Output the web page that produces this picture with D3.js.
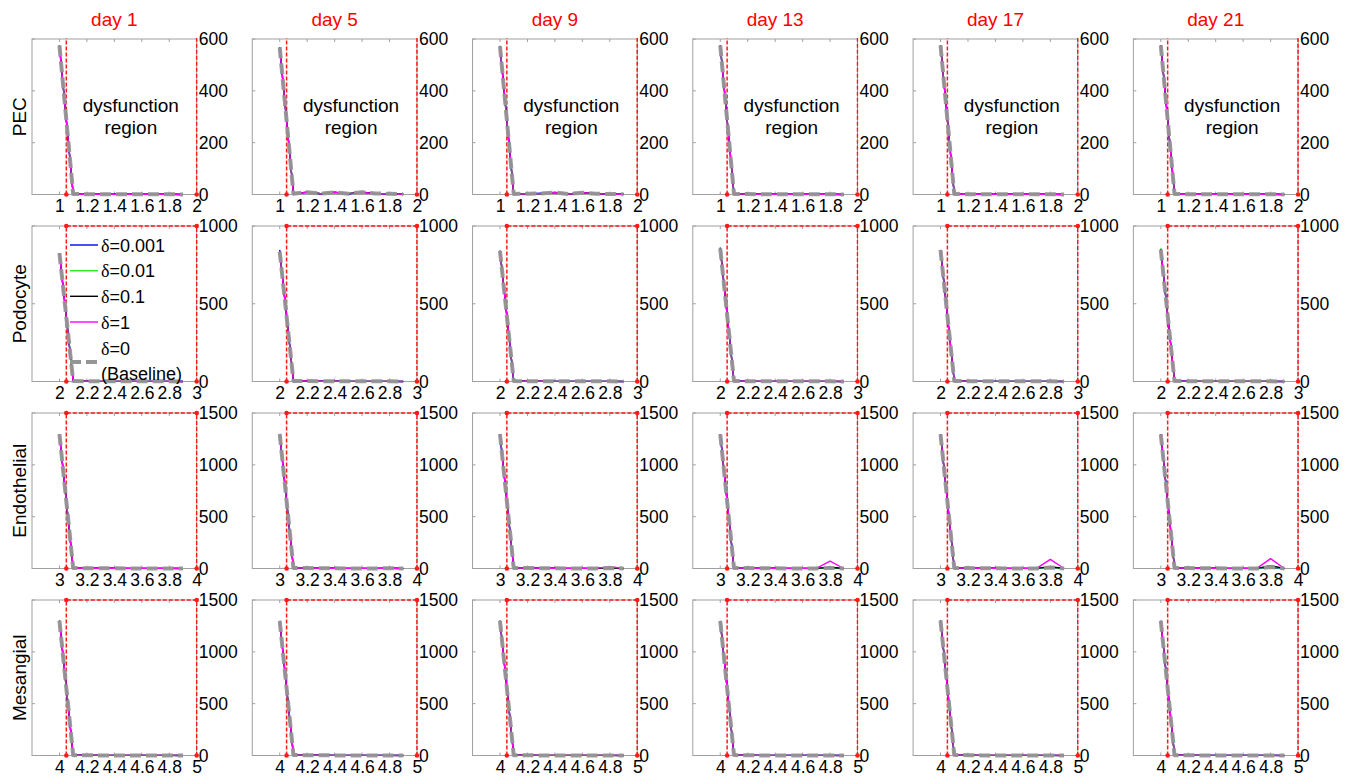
<!DOCTYPE html>
<html>
<head>
<meta charset="utf-8">
<script src="https://cdn.jsdelivr.net/npm/d3@7/dist/d3.min.js"></script>
<style>
  html, body { margin: 0; padding: 0; background: #fff; }
  svg { display: block; font-family: "Liberation Sans", Arial, sans-serif; }
</style>
</head>
<body>
<svg id="chart" width="1351" height="779"></svg>
<script>
// ---- chart data ---------------------------------------------------------
const days = ["day 1", "day 5", "day 9", "day 13", "day 17", "day 21"];
const cellTypes = ["PEC", "Podocyte", "Endothelial", "Mesangial"];

// bin positions relative to each cell type's start value (1, 2, 3, 4)
const binOffsets = [0, 0.1, 0.2, 0.3, 0.4, 0.5, 0.6, 0.7, 0.8, 0.9];
const xStart = [1, 2, 3, 4];
const xTickLabels = [
  ["1", "1.2", "1.4", "1.6", "1.8", "2"],
  ["2", "2.2", "2.4", "2.6", "2.8", "3"],
  ["3", "3.2", "3.4", "3.6", "3.8", "4"],
  ["4", "4.2", "4.4", "4.6", "4.8", "5"]
];
const yMax = [600, 1000, 1500, 1500];
const yTicks = [
  [0, 200, 400, 600],
  [0, 500, 1000],
  [0, 500, 1000, 1500],
  [0, 500, 1000, 1500]
];
// dysfunction region: from threshold to end of range, up to regionTop
const regionStart = [1.05, 2.05, 3.05, 4.05];
const regionTop = [1000, 1000, 1500, 1500];

const seriesNames = ["δ=0.001", "δ=0.01", "δ=0.1", "δ=1", "δ=0"];

// PEC (rows = days)
const pecD0001 = [
  [574, 2, 1, 1, 1, 1, 1, 1, 1, 0],
  [569, 4, 8, 3, 9, 3, 8, 3, 3, 1],
  [573, 2, 3, 5, 7, 2, 7, 3, 2, 1],
  [576, 2, 2, 1, 1, 1, 1, 1, 1, 0],
  [575, 2, 1, 1, 1, 1, 1, 1, 1, 0],
  [577, 2, 1, 1, 1, 1, 1, 1, 1, 0]
];
const pecD001 = [
  [575, 2, 1, 1, 1, 1, 1, 1, 1, 0],
  [568, 3, 9, 3, 8, 4, 9, 4, 3, 1],
  [574, 2, 3, 4, 8, 2, 6, 3, 2, 1],
  [575, 2, 2, 1, 1, 1, 1, 1, 1, 0],
  [576, 2, 1, 1, 1, 1, 1, 1, 1, 0],
  [576, 2, 1, 1, 1, 1, 1, 1, 1, 0]
];
const pecD01 = [
  [575, 2, 1, 1, 1, 1, 1, 1, 1, 0],
  [567, 3, 9, 3, 8, 3, 9, 4, 3, 1],
  [572, 2, 3, 4, 8, 2, 7, 3, 2, 1],
  [575, 2, 2, 1, 1, 1, 1, 1, 1, 0],
  [576, 2, 1, 1, 1, 1, 1, 1, 1, 0],
  [576, 2, 1, 1, 1, 1, 1, 1, 1, 0]
];
const pecD1 = [
  [574, 2, 1, 1, 1, 1, 1, 1, 1, 0],
  [566, 3, 8, 3, 8, 3, 8, 3, 3, 1],
  [571, 2, 3, 4, 7, 2, 7, 3, 2, 1],
  [574, 2, 2, 1, 1, 1, 1, 1, 1, 0],
  [575, 2, 1, 1, 1, 1, 1, 1, 1, 0],
  [575, 2, 1, 1, 1, 1, 1, 1, 1, 0]
];
const pecBaseline = [
  [575, 2, 1, 1, 1, 1, 1, 1, 1, 0],
  [568, 3, 9, 3, 8, 3, 9, 4, 3, 1],
  [572, 2, 3, 4, 8, 2, 7, 3, 2, 1],
  [575, 2, 2, 1, 1, 1, 1, 1, 1, 0],
  [576, 2, 1, 1, 1, 1, 1, 1, 1, 0],
  [576, 2, 1, 1, 1, 1, 1, 1, 1, 0]
];

// Podocyte
const podD0001 = [
  [826, 3, 2, 1, 1, 1, 1, 1, 1, 0],
  [846, 3, 3, 2, 2, 1, 1, 1, 1, 0],
  [842, 3, 2, 2, 1, 1, 1, 1, 1, 0],
  [862, 3, 2, 1, 1, 1, 1, 1, 1, 0],
  [846, 3, 2, 1, 1, 1, 1, 1, 1, 0],
  [852, 3, 2, 1, 1, 1, 1, 1, 1, 0]
];
const podD001 = [
  [825, 3, 2, 1, 1, 1, 1, 1, 1, 0],
  [836, 3, 3, 2, 2, 1, 1, 1, 1, 0],
  [841, 3, 2, 2, 1, 1, 1, 1, 1, 0],
  [856, 3, 2, 1, 1, 1, 1, 1, 1, 0],
  [845, 3, 2, 1, 1, 1, 1, 1, 1, 0],
  [858, 4, 3, 1, 1, 1, 1, 1, 1, 0]
];
const podD01 = [
  [825, 3, 2, 1, 1, 1, 1, 1, 1, 0],
  [835, 3, 3, 2, 2, 1, 1, 1, 1, 0],
  [840, 3, 2, 2, 1, 1, 1, 1, 1, 0],
  [855, 3, 2, 1, 1, 1, 1, 1, 1, 0],
  [845, 3, 2, 1, 1, 1, 1, 1, 1, 0],
  [849, 3, 2, 1, 1, 1, 1, 1, 1, 0]
];
const podD1 = [
  [824, 3, 2, 1, 1, 1, 1, 1, 1, 0],
  [834, 3, 3, 2, 2, 1, 1, 1, 1, 0],
  [839, 3, 2, 2, 1, 1, 1, 1, 1, 0],
  [854, 3, 2, 1, 1, 1, 1, 1, 1, 0],
  [844, 3, 2, 1, 1, 1, 1, 1, 1, 0],
  [848, 3, 2, 1, 1, 1, 1, 1, 1, 0]
];
const podBaseline = [
  [825, 3, 2, 1, 1, 1, 1, 1, 1, 0],
  [835, 3, 3, 2, 2, 1, 1, 1, 1, 0],
  [840, 3, 2, 2, 1, 1, 1, 1, 1, 0],
  [855, 3, 2, 1, 1, 1, 1, 1, 1, 0],
  [845, 3, 2, 1, 1, 1, 1, 1, 1, 0],
  [848, 3, 2, 1, 1, 1, 1, 1, 1, 0]
];

// Endothelial
const endoD0001 = [
  [1296, 4, 3, 2, 2, 1, 1, 1, 1, 0],
  [1298, 5, 4, 2, 2, 1, 1, 1, 2, 0],
  [1297, 5, 6, 3, 2, 1, 1, 1, 4, 0],
  [1296, 5, 4, 2, 2, 1, 1, 1, 6, 0],
  [1295, 5, 4, 2, 2, 1, 1, 1, 8, 0],
  [1296, 5, 4, 2, 2, 1, 1, 1, 10, 0]
];
const endoD001 = [
  [1295, 4, 3, 2, 2, 1, 1, 1, 1, 0],
  [1297, 5, 4, 2, 2, 1, 1, 1, 2, 0],
  [1296, 5, 6, 3, 2, 1, 1, 1, 5, 0],
  [1295, 5, 4, 2, 2, 1, 1, 1, 7, 0],
  [1294, 5, 4, 2, 2, 1, 1, 1, 10, 0],
  [1295, 5, 4, 2, 2, 1, 1, 1, 15, 0]
];
const endoD01 = [
  [1295, 4, 3, 2, 2, 1, 1, 1, 1, 0],
  [1297, 5, 4, 2, 2, 1, 1, 1, 3, 0],
  [1296, 5, 6, 3, 2, 1, 1, 1, 6, 0],
  [1295, 5, 4, 2, 2, 1, 1, 1, 12, 0],
  [1294, 5, 4, 2, 2, 1, 1, 1, 18, 0],
  [1295, 5, 4, 2, 2, 1, 1, 1, 28, 0]
];
const endoD1 = [
  [1294, 4, 3, 2, 2, 1, 1, 1, 2, 0],
  [1296, 5, 4, 2, 2, 1, 1, 1, 5, 0],
  [1295, 5, 6, 3, 2, 1, 1, 1, 18, 0],
  [1294, 5, 4, 2, 2, 1, 1, 1, 72, 0],
  [1293, 5, 4, 2, 2, 1, 1, 1, 88, 0],
  [1294, 5, 4, 2, 2, 1, 1, 1, 95, 0]
];
const endoBaseline = [
  [1295, 4, 3, 2, 2, 1, 1, 1, 1, 0],
  [1297, 5, 4, 2, 2, 1, 1, 1, 2, 0],
  [1296, 5, 6, 3, 2, 1, 1, 1, 4, 0],
  [1295, 5, 4, 2, 2, 1, 1, 1, 6, 0],
  [1294, 5, 4, 2, 2, 1, 1, 1, 10, 0],
  [1295, 5, 4, 2, 2, 1, 1, 1, 14, 0]
];

// Mesangial
const mesD0001 = [
  [1301, 3, 2, 1, 1, 1, 1, 1, 1, 0],
  [1299, 4, 3, 2, 1, 1, 1, 1, 1, 0],
  [1300, 3, 2, 1, 1, 1, 1, 1, 1, 0],
  [1298, 4, 2, 1, 1, 1, 1, 1, 1, 0],
  [1302, 5, 3, 1, 1, 1, 1, 1, 1, 0],
  [1300, 3, 2, 1, 1, 1, 1, 1, 1, 0]
];
const mesD001 = [
  [1300, 3, 2, 1, 1, 1, 1, 1, 1, 0],
  [1298, 4, 3, 2, 1, 1, 1, 1, 1, 0],
  [1300, 3, 2, 1, 1, 1, 1, 1, 1, 0],
  [1297, 4, 2, 1, 1, 1, 1, 1, 1, 0],
  [1301, 5, 3, 1, 1, 1, 1, 1, 1, 0],
  [1299, 3, 2, 1, 1, 1, 1, 1, 1, 0]
];
const mesD01 = [
  [1300, 3, 2, 1, 1, 1, 1, 1, 1, 0],
  [1298, 4, 3, 2, 1, 1, 1, 1, 1, 0],
  [1300, 3, 2, 1, 1, 1, 1, 1, 1, 0],
  [1297, 4, 2, 1, 1, 1, 1, 1, 1, 0],
  [1301, 5, 3, 1, 1, 1, 1, 1, 1, 0],
  [1299, 3, 2, 1, 1, 1, 1, 1, 1, 0]
];
const mesD1 = [
  [1299, 3, 2, 1, 1, 1, 1, 1, 1, 0],
  [1297, 4, 3, 2, 1, 1, 1, 1, 1, 0],
  [1299, 3, 2, 1, 1, 1, 1, 1, 1, 0],
  [1296, 4, 2, 1, 1, 1, 1, 1, 1, 0],
  [1300, 5, 3, 1, 1, 1, 1, 1, 1, 0],
  [1298, 3, 2, 1, 1, 1, 1, 1, 1, 0]
];
const mesBaseline = [
  [1300, 3, 2, 1, 1, 1, 1, 1, 1, 0],
  [1298, 4, 3, 2, 1, 1, 1, 1, 1, 0],
  [1300, 3, 2, 1, 1, 1, 1, 1, 1, 0],
  [1297, 4, 2, 1, 1, 1, 1, 1, 1, 0],
  [1301, 5, 3, 1, 1, 1, 1, 1, 1, 0],
  [1299, 3, 2, 1, 1, 1, 1, 1, 1, 0]
];

// series per cell type, in drawing order (baseline last, on top)
const cellSeries = [
  [pecD0001, pecD001, pecD01, pecD1, pecBaseline],
  [podD0001, podD001, podD01, podD1, podBaseline],
  [endoD0001, endoD001, endoD01, endoD1, endoBaseline],
  [mesD0001, mesD001, mesD01, mesD1, mesBaseline]
];

// ---- styling ------------------------------------------------------------
const seriesStyle = [
  { color: "#0000ff", width: 1.4, dash: null },
  { color: "#22ee22", width: 1.4, dash: null },
  { color: "#000000", width: 1.4, dash: null },
  { color: "#ff00ff", width: 1.4, dash: null },
  { color: "#959595", width: 4, dash: "11,5" }
];
const red = "#ff1a1a";
const boxColor = "#a0a0a0";
const font = "\"Liberation Sans\", Arial, sans-serif";

const layout = {
  left0: 32, colStep: 220.27, width: 164.7,
  top0: 39, rowStep: 187, height: 155.5
};

const svg = d3.select("#chart");

cellTypes.forEach((cell, r) => {
  const top = layout.top0 + r * layout.rowStep;
  const bottom = top + layout.height;

  // row label
  svg.append("text")
    .attr("transform", `translate(${26},${top + layout.height / 2}) rotate(-90)`)
    .attr("text-anchor", "middle")
    .attr("font-size", 19)
    .attr("fill", "#000")
    .text(cell);

  days.forEach((day, c) => {
    const left = layout.left0 + c * layout.colStep;
    const right = left + layout.width;
    const x0 = xStart[r];

    const x = d3.scaleLinear().domain([x0 - 0.2, x0 + 1]).range([left, right]);
    const y = d3.scaleLinear().domain([0, yMax[r]]).range([bottom, top]);

    const g = svg.append("g");

    // column title
    if (r === 0) {
      svg.append("text")
        .attr("x", (left + right) / 2)
        .attr("y", 26)
        .attr("text-anchor", "middle")
        .attr("font-size", 19)
        .attr("fill", "#ff0000")
        .text(day);
    }

    // axes box
    g.append("rect")
      .attr("x", left).attr("y", top)
      .attr("width", layout.width).attr("height", layout.height)
      .attr("fill", "none").attr("stroke", boxColor).attr("stroke-width", 1);

    const xTickVals = xTickLabels[r].map(Number);

    // inner tick marks (bottom/top)
    const tickLen = 3;
    xTickVals.forEach(v => {
      g.append("line").attr("x1", x(v)).attr("x2", x(v))
        .attr("y1", bottom).attr("y2", bottom - tickLen)
        .attr("stroke", boxColor);
      g.append("line").attr("x1", x(v)).attr("x2", x(v))
        .attr("y1", top).attr("y2", top + tickLen)
        .attr("stroke", boxColor);
    });
    // inner tick marks (left)
    yTicks[r].forEach(v => {
      g.append("line").attr("x1", left).attr("x2", left + tickLen)
        .attr("y1", y(v)).attr("y2", y(v))
        .attr("stroke", boxColor);
    });

    // x tick labels
    const xAxis = d3.axisBottom(x)
      .tickValues(xTickVals)
      .tickFormat((d, i) => xTickLabels[r][i])
      .tickSize(0).tickPadding(0);
    const xa = g.append("g").attr("transform", `translate(0,${bottom})`).call(xAxis);
    xa.select(".domain").remove();
    xa.selectAll("text")
      .attr("dy", null).attr("y", 17.5)
      .attr("font-size", 17.5).attr("fill", "#000")
      .attr("font-family", font);

    // right y tick labels
    const yAxis = d3.axisRight(y).tickValues(yTicks[r])
      .tickFormat(d3.format("d")).tickSize(0).tickPadding(2);
    const ya = g.append("g").attr("transform", `translate(${right},0)`).call(yAxis);
    ya.select(".domain").remove();
    ya.selectAll("text")
      .attr("font-size", 17.5).attr("fill", "#000")
      .attr("font-family", font);

    // dysfunction region (dashed red outline, clipped to the axes)
    const clipId = `clip-${r}-${c}`;
    svg.append("clipPath").attr("id", clipId)
      .append("rect").attr("x", left - 1).attr("y", top - 1)
      .attr("width", layout.width + 2).attr("height", layout.height + 2);
    const xs = x(regionStart[r]);
    const xe = x(x0 + 1);
    const yt = y(regionTop[r]);
    const yb = y(0);
    const reg = g.append("g").attr("clip-path", `url(#${clipId})`);
    reg.append("path")
      .attr("d", `M${xs},${yb}L${xs},${yt}L${xe},${yt}L${xe},${yb}`)
      .attr("fill", "none").attr("stroke", red)
      .attr("stroke-width", 1.5).attr("stroke-dasharray", "4,2");

    // series lines
    const line = d3.line()
      .x((d, i) => x(x0 + binOffsets[i]))
      .y(d => y(d));
    cellSeries[r].forEach((series, s) => {
      const st = seriesStyle[s];
      g.append("path")
        .datum(series[c])
        .attr("d", line)
        .attr("fill", "none")
        .attr("stroke", st.color)
        .attr("stroke-width", st.width)
        .attr("stroke-dasharray", st.dash)
        .attr("stroke-linejoin", "round")
        .attr("opacity", s === 4 ? 0.95 : 1);
    });

    // region corner markers
    const corners = [[regionStart[r], 0], [x0 + 1, 0], [regionStart[r], regionTop[r]], [x0 + 1, regionTop[r]]]
      .filter(p => p[1] <= yMax[r]);
    g.selectAll(null).data(corners).enter().append("circle")
      .attr("cx", d => x(d[0])).attr("cy", d => y(d[1]))
      .attr("r", 2.3).attr("fill", red);

    // region label on PEC row
    if (r === 0) {
      const tx = x(x0 + 0.52);
      g.append("text").attr("x", tx).attr("y", y(340) + 6)
        .attr("text-anchor", "middle").attr("font-size", 19).attr("fill", "#000")
        .text("dysfunction");
      g.append("text").attr("x", tx).attr("y", y(255) + 6)
        .attr("text-anchor", "middle").attr("font-size", 19).attr("fill", "#000")
        .text("region");
    }

    // legend in the first Podocyte panel
    if (r === 1 && c === 0) {
      const lx0 = left + 38, lx1 = left + 66, tx = left + 69;
      const rowsY = [245, 270.7, 296.3, 322];
      seriesNames.slice(0, 4).forEach((name, i) => {
        g.append("line")
          .attr("x1", lx0).attr("x2", lx1)
          .attr("y1", rowsY[i]).attr("y2", rowsY[i])
          .attr("stroke", seriesStyle[i].color).attr("stroke-width", 1.4);
        const t = g.append("text").attr("x", tx).attr("y", rowsY[i] + 6.5)
          .attr("font-size", 18).attr("fill", "#000");
        t.append("tspan").attr("font-family", "\"Liberation Serif\", serif").text("δ");
        t.append("tspan").text(name.slice(1));
      });
      const by = 362;
      g.append("line")
        .attr("x1", lx0).attr("x2", lx1)
        .attr("y1", by).attr("y2", by)
        .attr("stroke", seriesStyle[4].color).attr("stroke-width", 4)
        .attr("stroke-dasharray", "11,5");
      const t0 = g.append("text").attr("x", tx).attr("y", 348 + 6.5)
        .attr("font-size", 18).attr("fill", "#000");
      t0.append("tspan").attr("font-family", "\"Liberation Serif\", serif").text("δ");
      t0.append("tspan").text(seriesNames[4].slice(1));
      g.append("text").attr("x", tx).attr("y", 373.5 + 6.5)
        .attr("font-size", 18).attr("fill", "#000")
        .text("(Baseline)");
    }
  });
});
</script>
</body>
</html>
